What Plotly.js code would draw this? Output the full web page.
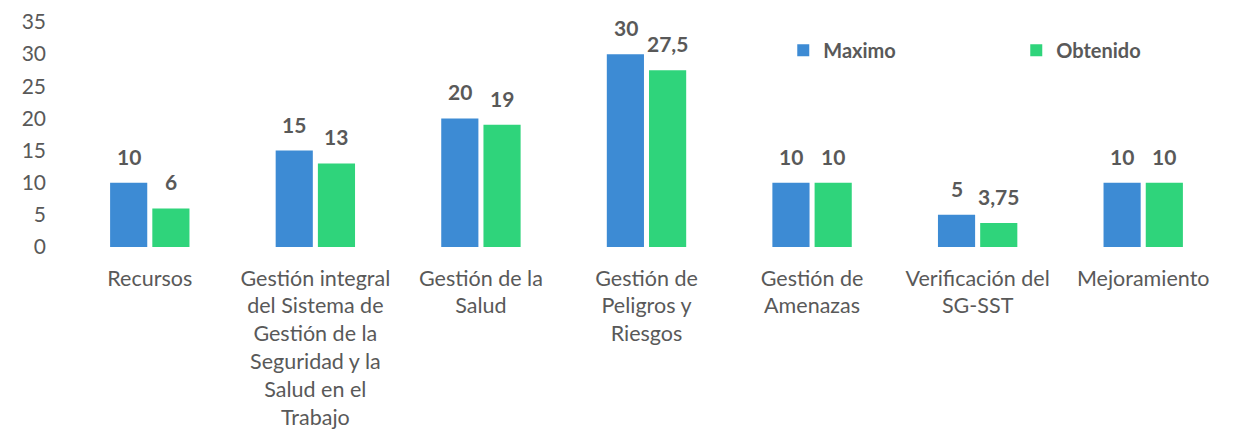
<!DOCTYPE html>
<html>
<head>
<meta charset="utf-8">
<script src="https://cdn.plot.ly/plotly-3.0.1.min.js"></script>
<style>html,body{margin:0;padding:0;background:#fff;}#chart{width:1233px;height:444px;}</style>
</head>
<body>
<div id="chart"></div>
<script>
const categories = [
  "Recursos",
  "Gestión integral<br>del Sistema de<br>Gestión de la<br>Seguridad y la<br>Salud en el<br>Trabajo",
  "Gestión de la<br>Salud",
  "Gestión de<br>Peligros y<br>Riesgos",
  "Gestión de<br>Amenazas",
  "Verificación del<br>SG-SST",
  "Mejoramiento"
];
const maximo = [10, 15, 20, 30, 10, 5, 10];
const obtenido = [6, 13, 19, 27.5, 10, 3.75, 10];
const maximoLabels = ["10", "15", "20", "30", "10", "5", "10"];
const obtenidoLabels = ["6", "13", "19", "27,5", "10", "3,75", "10"];
const yTicks = [0, 5, 10, 15, 20, 25, 30, 35];

const txt = '#595959';
const blue = '#3d8bd4';
const green = '#2fd47b';
const font = 'Lato, sans-serif';

const traces = [
  {type: 'bar', name: 'Maximo', x: categories, y: maximo, marker: {color: blue},
   text: maximoLabels, textposition: 'none', hoverinfo: 'none'},
  {type: 'bar', name: 'Obtenido', x: categories, y: obtenido, marker: {color: green},
   text: obtenidoLabels, textposition: 'none', hoverinfo: 'none'}
];

const annotations = [];
categories.forEach((c, i) => {
  annotations.push({x: c, y: maximo[i], xref: 'x', yref: 'y', text: maximoLabels[i],
    showarrow: false, xshift: -21, yshift: 12, yanchor: 'bottom',
    font: {family: font, size: 21, color: txt, weight: 'bold'}});
  annotations.push({x: c, y: obtenido[i], xref: 'x', yref: 'y', text: obtenidoLabels[i],
    showarrow: false, xshift: 21, yshift: 12, yanchor: 'bottom',
    font: {family: font, size: 21, color: txt, weight: 'bold'}});
});

const layout = {
  width: 1233, height: 444,
  margin: {l: 67, r: 7, t: 22, b: 197, autoexpand: false},
  paper_bgcolor: '#fff', plot_bgcolor: '#fff',
  barmode: 'group', bargap: 0.49, bargroupgap: 0.12,
  font: {family: font, color: txt},
  showlegend: true,
  legend: {orientation: 'h', x: 0.618, y: 0.875, xanchor: 'left', yanchor: 'middle',
    entrywidth: 188, entrywidthmode: 'pixels',
    font: {family: font, size: 20, color: txt, weight: 'bold'}, bgcolor: 'rgba(0,0,0,0)'},
  xaxis: {type: 'category', showgrid: false, showline: false, zeroline: false, ticks: '',
    tickfont: {family: font, size: 21.5, color: txt}, ticklabelstandoff: 16, tickangle: 0,
    automargin: false},
  yaxis: {range: [0, 35], tickvals: yTicks, ticktext: yTicks.map(String), showgrid: false,
    zeroline: false, showline: false, ticks: '', ticklabelstandoff: 20,
    tickfont: {family: font, size: 21, color: txt}, automargin: false},
  annotations: annotations
};

Plotly.newPlot('chart', traces, layout, {displayModeBar: false, staticPlot: true});
</script>
</body>
</html>
